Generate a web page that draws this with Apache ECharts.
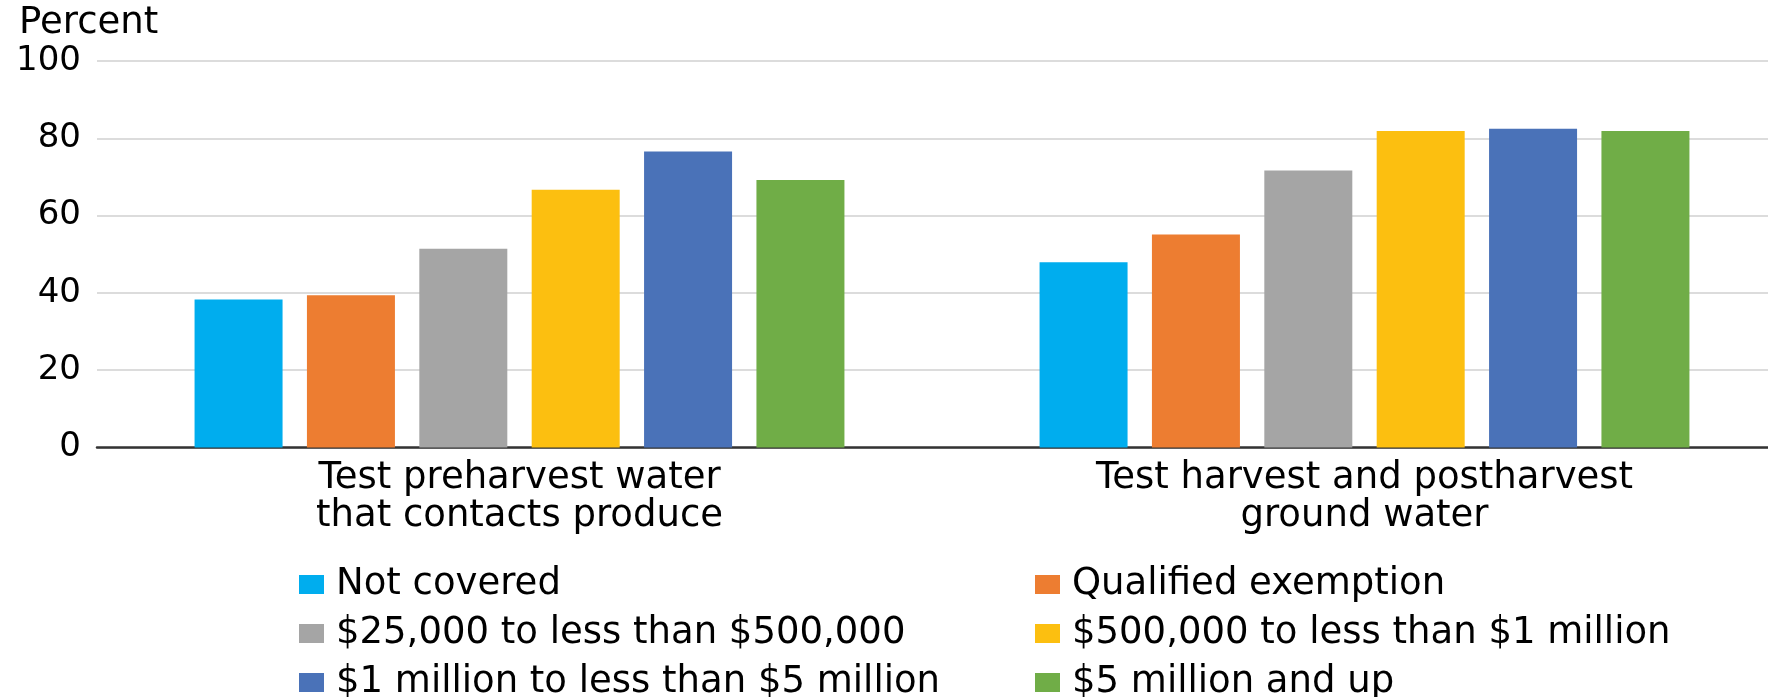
<!DOCTYPE html>
<html>
<head>
<meta charset="utf-8">
<title>Water testing by farm size</title>
<script src="https://cdn.jsdelivr.net/npm/echarts@6/dist/echarts.min.js"></script>
<style>
html, body { margin: 0; height: 100%; background: #fff; }
</style>
</head>
<body>
<div id="main" style="width:1768px;height:697px;"></div>
<script>
// categories and values
var categories = ['Test preharvest water\nthat contacts produce', 'Test harvest and postharvest\nground water'];
var seriesNames = ['Not covered', 'Qualified exemption', '$25,000 to less than $500,000',
                   '$500,000 to less than $1 million', '$1 million to less than $5 million', '$5 million and up'];
var notCovered   = [38.3, 47.9];
var qualified    = [39.4, 55.1];
var small        = [51.4, 71.7];
var midSize      = [66.7, 81.9];
var large        = [76.6, 82.5];
var veryLarge    = [69.2, 81.9];
var yTicks = [0, 20, 40, 60, 80, 100];

var colors = ['#00ADEE', '#ED7D31', '#A5A5A5', '#FCBF10', '#4A72B8', '#70AD47'];
var values = [notCovered, qualified, small, midSize, large, veryLarge];

var font = 'DejaVu Sans';
var chart = echarts.init(document.getElementById('main'));

var series = seriesNames.map(function (name, i) {
    return {
        name: name,
        type: 'bar',
        barWidth: 88,
        barGap: '27.7%',
        itemStyle: { color: colors[i] },
        data: values[i]
    };
});

// two legend columns, like the reference
function legendCol(names, left) {
    return {
        data: names,
        orient: 'vertical',
        left: left,
        top: 566,
        height: 220,
        padding: 0,
        itemWidth: 25,
        itemHeight: 19,
        itemGap: 12,
        icon: 'rect',
        textStyle: { fontFamily: font, fontSize: 37, lineHeight: 34, color: '#000', padding: [0, 0, 0, 7] }
    };
}

chart.setOption({
    animation: false,
    color: colors,
    textStyle: { fontFamily: font, color: '#000' },
    title: {
        text: 'Percent',
        left: 14,
        top: 0,
        textStyle: { fontFamily: font, fontSize: 37, fontWeight: 'normal', color: '#000' }
    },
    legend: [
        legendCol([seriesNames[0], seriesNames[2], seriesNames[4]], 299),
        legendCol([seriesNames[1], seriesNames[3], seriesNames[5]], 1035)
    ],
    // plot area runs a little past the right edge of the picture
    grid: { left: 97, width: 1690, top: 61, bottom: 249.5, outerBoundsMode: 'none' },
    xAxis: {
        type: 'category',
        data: categories,
        axisTick: { show: false },
        axisLine: { lineStyle: { color: '#333', width: 2.5 } },
        axisLabel: { fontFamily: font, fontSize: 37, lineHeight: 38, color: '#000', margin: 12 }
    },
    yAxis: {
        type: 'value',
        min: yTicks[0],
        max: yTicks[yTicks.length - 1],
        interval: 20,
        axisLine: { show: false },
        axisTick: { show: false },
        splitLine: { lineStyle: { color: '#DCDCDC', width: 2 } },
        axisLabel: { fontFamily: font, fontSize: 34, color: '#000', margin: 16 }
    },
    series: series
});
</script>
</body>
</html>
